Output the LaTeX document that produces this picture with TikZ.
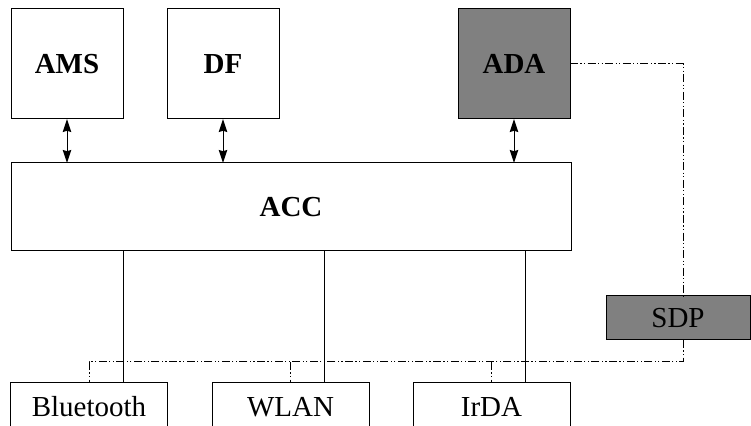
\documentclass[tikz,border=0pt]{standalone}
\usepackage{fontspec}
\setmainfont{Liberation Serif}
\usetikzlibrary{arrows.meta, positioning, calc}

\begin{document}
\begin{tikzpicture}[
    x=0.5pt, y=-0.5pt,
    >={Stealth[length=6.5pt, width=4.2pt, inset=0.6pt]},
    font=\fontsize{14.5}{17}\selectfont,
    % Define colors
    /utils/exec={
        \definecolor{boxGrey}{RGB}{128, 128, 128}
    },
    % Node Styles
    box/.style={
        draw=black, line width=0.5pt, inner sep=0pt, outer sep=0pt,
        align=center
    },
    unit/.style={box, font=\fontsize{14.5}{17}\selectfont\bfseries, minimum width=56pt, minimum height=55pt},
    core/.style={box, font=\fontsize{14.5}{17}\selectfont\bfseries, minimum width=280pt, minimum height=44pt},
    radio/.style={box, minimum width=78.5pt, minimum height=24pt},
    conn/.style={<->, line width=0.5pt},
    wire/.style={line width=0.5pt},
    ctrl/.style={line width=0.5pt, dash pattern=on 4pt off 1.2pt on 0.6pt off 1.2pt on 0.6pt off 1.2pt}
]

\useasboundingbox (0,0) rectangle (751,426);
\clip (0,0) rectangle (751,426);

% --- UPPER UNITS ---
\node[unit] (ams) at (67,64) {AMS};
\node[unit] (df) at (223,64) {DF};
\node[unit, fill=boxGrey] (ada) at (514,64) {ADA};

% --- CORE ---
\node[core] (acc) at (291,207) {ACC};

\draw[conn] (ams.south) -- (ams.south |- acc.north);
\draw[conn] (df.south) -- (df.south |- acc.north);
\draw[conn] (ada.south) -- (ada.south |- acc.north);

% --- SDP ---
\node[box, fill=boxGrey, minimum width=72pt, minimum height=22pt] (sdp) at (678,318) {SDP};

% --- RADIO LINKS ---
\node[radio] (bt) at (89,407) {Bluetooth};
\node[radio] (wlan) at (290.5,407) {WLAN};
\node[radio] (irda) at (491.5,407) {IrDA};

% data lines
\foreach \n in {bt, wlan, irda}
    \draw[wire] ([xshift=17pt]\n.north) -- ([xshift=17pt]\n.north |- acc.south);

% control bus
\coordinate (busY) at (0,362);
\coordinate (sdpTop) at ([xshift=2.5pt]sdp.north);
\coordinate (sdpIn) at ([xshift=2.5pt]sdp.south);

\draw[ctrl] (ada.east) -| (sdpTop);
\draw[ctrl] (sdpIn) |- (busY -| bt.north) -- (bt.north);
\foreach \n in {wlan, irda}
    \draw[ctrl] (busY -| \n.north) -- (\n.north);

\end{tikzpicture}
\end{document}
